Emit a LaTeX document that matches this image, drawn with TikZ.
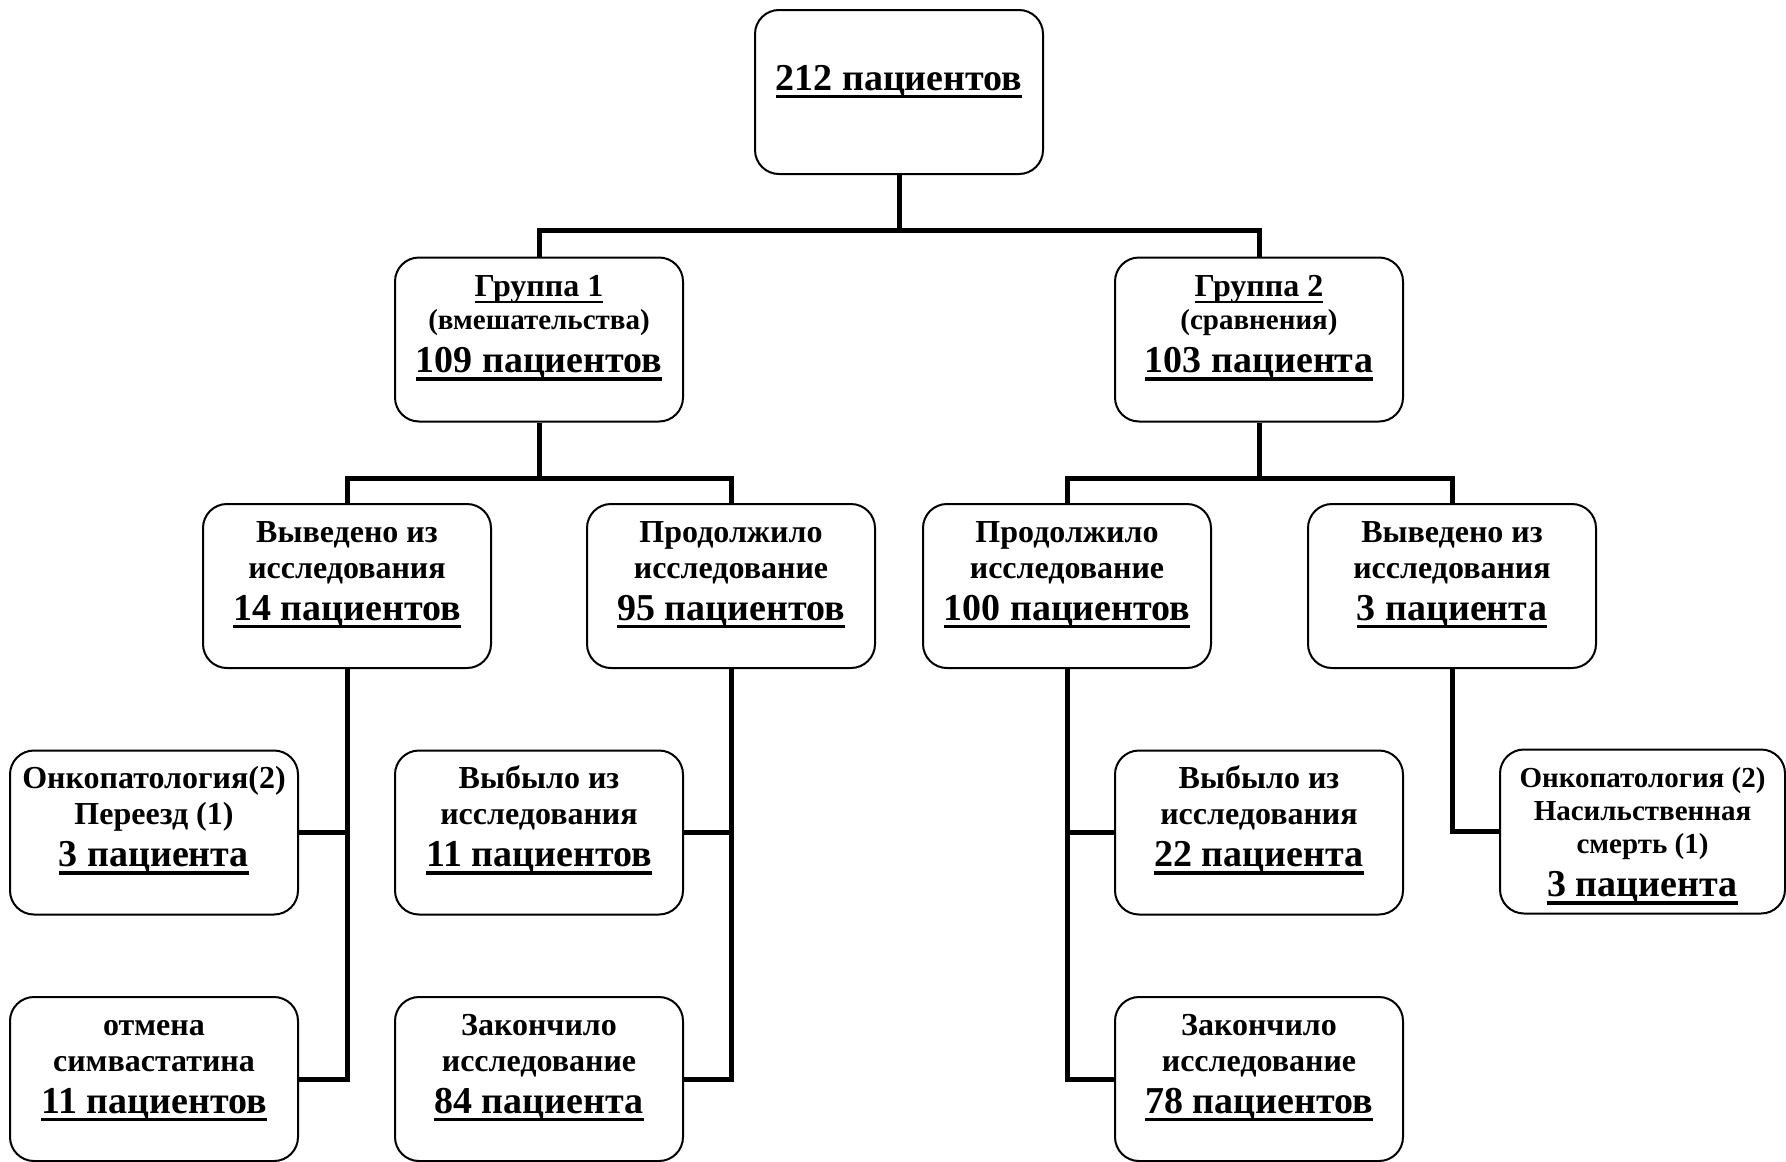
\documentclass[tikz,border=0pt]{standalone}
\usepackage{fontspec}
\setmainfont{Liberation Serif}
\newcommand\ulx[1]{\leavevmode\setbox0\hbox{#1}\rlap{\rule[-0.21em]{\wd0}{0.09em}}\box0}
\newcommand\fsz[2]{\fontsize{#1}{#2}\selectfont}
\newcommand\stt{\rule{0pt}{28pt}}
\begin{document}
\begin{tikzpicture}[x=1pt,y=-1pt,
 box/.style={draw, line width=2pt, rounded corners=24pt, minimum width=288pt, minimum height=164pt, inner sep=0pt},
 txt/.style={anchor=north, align=center, inner sep=0pt},
 conn/.style={line width=5pt}]
\useasboundingbox (0,0) rectangle (1786,1162);
% boxes
\node[box] (top) at (899,92) {};
\node[box] (g1) at (539,339.5) {};
\node[box] (g2) at (1259,339.5) {};
\node[box] (a1) at (347,586) {};
\node[box] (a2) at (731,586) {};
\node[box] (b1) at (1067,586) {};
\node[box] (b2) at (1452,586) {};
\node[box] (c1) at (154,832.5) {};
\node[box] (c2) at (539,832.5) {};
\node[box] (c3) at (1259,832.5) {};
\node[box, minimum width=285pt] (c4) at (1642.5,831.5) {};
\node[box] (d1) at (154,1079) {};
\node[box] (d2) at (539,1079) {};
\node[box] (d3) at (1259,1079) {};
% texts
\node[txt, font=\bfseries\fsz{38}{42}] (topt) at ([yshift=-53pt]top.north) {\stt\ulx{212 пациентов}};
\node[txt, font=\bfseries\fsz{32}{33}] (g1t) at ([yshift=-12pt]g1.north) {\stt\ulx{Группа 1}\\{\fsz{29}{33}(вмешательства)}\\[10pt]{\fsz{38}{42}\ulx{109 пациентов}}};
\node[txt, font=\bfseries\fsz{32}{33}] (g2t) at ([yshift=-12pt]g2.north) {\stt\ulx{Группа 2}\\{\fsz{29}{33}(сравнения)}\\[10pt]{\fsz{38}{42}\ulx{103 пациента}}};
\node[txt, font=\bfseries\fsz{32}{36}] (a1t) at ([yshift=-11pt]a1.north) {\stt Выведено из\\исследования\\[6pt]{\fsz{38}{42}\ulx{14 пациентов}}};
\node[txt, font=\bfseries\fsz{32}{36}] (a2t) at ([yshift=-11pt]a2.north) {\stt Продолжило\\исследование\\[6pt]{\fsz{38}{42}\ulx{95 пациентов}}};
\node[txt, font=\bfseries\fsz{32}{36}] (b1t) at ([yshift=-11pt]b1.north) {\stt Продолжило\\исследование\\[6pt]{\fsz{38}{42}\ulx{100 пациентов}}};
\node[txt, font=\bfseries\fsz{32}{36}] (b2t) at ([yshift=-11pt]b2.north) {\stt Выведено из\\исследования\\[6pt]{\fsz{38}{42}\ulx{3 пациента}}};
\node[txt, font=\bfseries\fsz{32}{36}] (c1t) at ([yshift=-11pt]c1.north) {\stt Онкопатология(2)\\Переезд (1)\\[6pt]{\fsz{38}{42}\ulx{3 пациента}}};
\node[txt, font=\bfseries\fsz{32}{36}] (c2t) at ([yshift=-11pt]c2.north) {\stt Выбыло из\\исследования\\[6pt]{\fsz{38}{42}\ulx{11 пациентов}}};
\node[txt, font=\bfseries\fsz{32}{36}] (c3t) at ([yshift=-11pt]c3.north) {\stt Выбыло из\\исследования\\[6pt]{\fsz{38}{42}\ulx{22 пациента}}};
\node[txt, font=\bfseries\fsz{29}{33}] (c4t) at ([yshift=-11pt]c4.north) {\stt Онкопатология (2)\\Насильственная\\смерть (1)\\[10pt]{\fsz{38}{42}\ulx{3 пациента}}};
\node[txt, font=\bfseries\fsz{32}{36}] (d1t) at ([yshift=-11pt]d1.north) {\stt отмена\\симвастатина\\[6pt]{\fsz{38}{42}\ulx{11 пациентов}}};
\node[txt, font=\bfseries\fsz{32}{36}] (d2t) at ([yshift=-11pt]d2.north) {\stt Закончило\\исследование\\[6pt]{\fsz{38}{42}\ulx{84 пациента}}};
\node[txt, font=\bfseries\fsz{32}{36}] (d3t) at ([yshift=-11pt]d3.north) {\stt Закончило\\исследование\\[6pt]{\fsz{38}{42}\ulx{78 пациентов}}};
% junctions
\coordinate (j0) at (899,230);
\coordinate (j1) at (539,478);
\coordinate (j2) at (1259,478);
% connectors
\draw[conn] (top.south) -- (j0);
\draw[conn] (g1.north) |- (j0) -| (g2.north);
\draw[conn] (g1.south) -- (j1);
\draw[conn] (a1.north) |- (j1) -| (a2.north);
\draw[conn] (g2.south) -- (j2);
\draw[conn] (b1.north) |- (j2) -| (b2.north);
\draw[conn] (a1.south) |- (d1.east);
\draw[conn] (c1.east) -- (c1.east -| a1.south);
\draw[conn] (a2.south) |- (d2.east);
\draw[conn] (c2.east) -- (c2.east -| a2.south);
\draw[conn] (b1.south) |- (d3.west);
\draw[conn] (c3.west) -- (c3.west -| b1.south);
\draw[conn] (b2.south) |- (c4.west);
\end{tikzpicture}
\end{document}
